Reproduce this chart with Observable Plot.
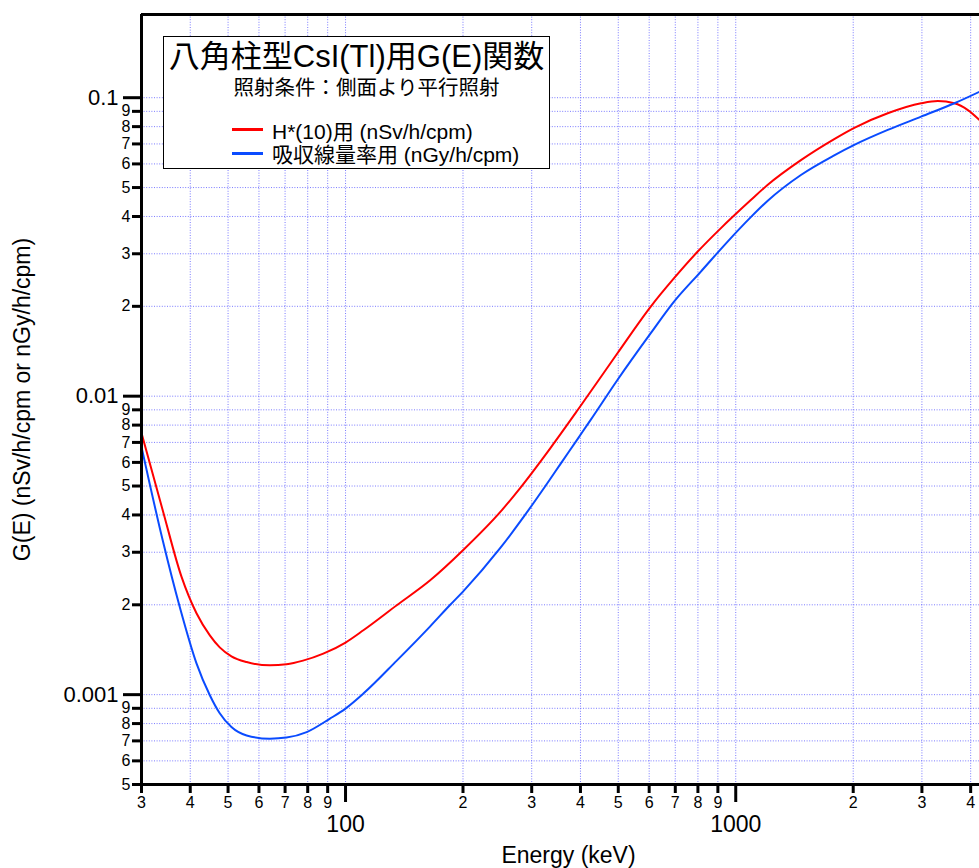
<!DOCTYPE html>
<html><head><meta charset="utf-8">
<script src="https://cdn.jsdelivr.net/npm/d3@7"></script>
<script src="https://cdn.jsdelivr.net/npm/@observablehq/plot@0.6"></script>
<style>
body{margin:0;background:#fff;}
#wrap{position:relative;width:979px;height:868px;overflow:hidden;font-family:"Liberation Sans",Arial,"Noto Sans CJK JP",sans-serif;}
#legend{position:absolute;left:163px;top:36px;width:387px;height:133px;box-sizing:border-box;border:1.5px solid #000;background:#fff;color:#000;}
#legend .t{position:absolute;left:0;width:100%;text-align:center;white-space:nowrap;}
#legend .e{position:absolute;left:108px;font-size:21px;line-height:21px;white-space:nowrap;}
#legend .sw{position:absolute;left:68px;width:31px;height:3px;}
</style></head>
<body><div id="wrap"></div>
<script>
// ---- data ----
const redE = [30, 34, 38, 41.5, 44.9, 47.6, 51, 55.8, 64, 70.6, 77.8, 87.7, 100, 111.1, 135.3, 164.8, 200, 249.3, 280.5, 335, 396, 497, 605, 694, 798, 915, 1093, 1206, 1469, 1788, 2013, 2452, 2985, 3295, 3634, 3935, 4214];
const redG = [7.52e-3, 4.15e-3, 2.48e-3, 1.873e-3, 1.58e-3, 1.44e-3, 1.344e-3, 1.286e-3, 1.254e-3, 1.264e-3, 1.300e-3, 1.372e-3, 1.495e-3, 1.643e-3, 1.993e-3, 2.416e-3, 3.046e-3, 4.094e-3, 4.93e-3, 6.7e-3, 9.09e-3, 0.0139, 0.01993, 0.0248, 0.03046, 0.0365, 0.0454, 0.051, 0.0618, 0.0727, 0.0793, 0.0887, 0.0958, 0.0975, 0.0958, 0.0909, 0.0842];
const blueE = [30, 34, 37.6, 41.5, 44.9, 47.6, 51, 55.8, 64, 70.6, 79.5, 91.2, 100, 111.1, 135.3, 164.8, 185.5, 200, 249.3, 286, 328.6, 355.3, 396, 424.4, 497, 605, 694, 813, 952, 1093, 1206, 1469, 1788, 2013, 2452, 2985, 3634, 4214];
const blueG = [6.76e-3, 3.29e-3, 1.966e-3, 1.273e-3, 0.995e-3, 0.866e-3, 0.779e-3, 0.730e-3, 0.712e-3, 0.718e-3, 0.749e-3, 0.831e-3, 0.898e-3, 1.008e-3, 1.30e-3, 1.694e-3, 2.0e-3, 2.215e-3, 3.10e-3, 3.94e-3, 5.10e-3, 5.92e-3, 7.28e-3, 8.31e-3, 0.01131, 0.01623, 0.0207, 0.0261, 0.0329, 0.0398, 0.0451, 0.0551, 0.0641, 0.0695, 0.078, 0.0864, 0.0958, 0.1047];

const xMinorTicks = [30, 40, 50, 60, 70, 80, 90, 200, 300, 400, 500, 600, 700, 800, 900, 2000, 3000, 4000];
const xMinorLabels = ["3","4","5","6","7","8","9","2","3","4","5","6","7","8","9","2","3","4"];
const xMajorTicks = [100, 1000];
const xMajorLabels = ["100", "1000"];
const yMinorTicks = [5e-4, 6e-4, 7e-4, 8e-4, 9e-4, 0.002, 0.003, 0.004, 0.005, 0.006, 0.007, 0.008, 0.009, 0.02, 0.03, 0.04, 0.05, 0.06, 0.07, 0.08, 0.09];
const yMinorLabels = ["5","6","7","8","9","2","3","4","5","6","7","8","9","2","3","4","5","6","7","8","9"];
const yMajorTicks = [0.001, 0.01, 0.1];
const yMajorLabels = ["0.001", "0.01", "0.1"];

const seriesNames = ["H*(10)用 (nSv/h/cpm)", "吸収線量率用 (nGy/h/cpm)"];
const seriesColors = ["#ff0000", "#0a4bff"];
const titleText = "八角柱型CsI(Tl)用G(E)関数";
const subtitleText = "照射条件：側面より平行照射";
const xLabel = "Energy (keV)";
const yLabel = "G(E) (nSv/h/cpm or nGy/h/cpm)";
const xDomain = [30, 4214];
const yDomain = [5e-4, 0.19];

// ---- layout ----
const W = 979, H = 868, mL = 141, mR = 0, mT = 14, mB = 84;
const frameW = W - mL - mR, frameH = H - mT - mB;

// ---- build ----
const red = redE.map((e, i) => ({E: e, G: redG[i]}));
const blue = blueE.map((e, i) => ({E: e, G: blueG[i]}));
const gridStyle = {stroke: "#5a5aff", strokeOpacity: 0.8, strokeDasharray: "1,1.6", strokeWidth: 1};
const xTick = (len) => ({insetTop: frameH, insetBottom: -len, strokeWidth: 3, stroke: "#000"});
const yTick = (len) => ({insetRight: frameW, insetLeft: -len, strokeWidth: 3, stroke: "#000"});

const chart = Plot.plot({
  width: W, height: H,
  marginLeft: mL, marginRight: mR, marginTop: mT, marginBottom: mB,
  style: {fontFamily: '"Liberation Sans", Arial, sans-serif', background: "#fff", color: "#000"},
  x: {type: "log", domain: xDomain, label: null, axis: null},
  y: {type: "log", domain: yDomain, label: null, axis: null},
  marks: [
    Plot.ruleX([...xMinorTicks, ...xMajorTicks], gridStyle),
    Plot.ruleY([...yMinorTicks.slice(1), ...yMajorTicks], gridStyle),
    Plot.line(red, {x: "E", y: "G", stroke: seriesColors[0], strokeWidth: 2, curve: "monotone-x", clip: true}),
    Plot.line(blue, {x: "E", y: "G", stroke: seriesColors[1], strokeWidth: 2, curve: "monotone-x", clip: true}),
    // frame
    Plot.ruleX([xDomain[0]], {strokeWidth: 3, stroke: "#000"}),
    Plot.ruleY([yDomain[0]], {strokeWidth: 3, stroke: "#000"}),
    Plot.ruleY([yDomain[1]], {strokeWidth: 3, stroke: "#000"}),
    // x ticks + labels
    Plot.ruleX(xMinorTicks, xTick(9)),
    Plot.ruleX(xMajorTicks, xTick(18)),
    Plot.text(xMinorTicks, {x: d => d, text: (d, i) => xMinorLabels[i], frameAnchor: "bottom", lineAnchor: "top", dy: 12, fontSize: 16}),
    Plot.text(xMajorTicks, {x: d => d, text: (d, i) => xMajorLabels[i], frameAnchor: "bottom", lineAnchor: "top", dy: 31, fontSize: 23}),
    // y ticks + labels
    Plot.ruleY(yMinorTicks, yTick(9)),
    Plot.ruleY(yMajorTicks, yTick(18)),
    Plot.text(yMinorTicks, {y: d => d, text: (d, i) => yMinorLabels[i], frameAnchor: "left", textAnchor: "end", lineAnchor: "middle", dx: -11, fontSize: 16}),
    Plot.text(yMajorTicks, {y: d => d, text: (d, i) => yMajorLabels[i], frameAnchor: "left", textAnchor: "end", lineAnchor: "middle", dx: -23, fontSize: 22}),
    // axis titles
    Plot.text([xLabel], {frameAnchor: "bottom", dy: 71, dx: 8, fontSize: 23, textAnchor: "middle", lineAnchor: "middle"}),
    Plot.text([yLabel], {frameAnchor: "left", rotate: -90, dx: -119, dy: 0, fontSize: 23, textAnchor: "middle", lineAnchor: "middle"})
  ]
});
const wrap = document.getElementById("wrap");
wrap.appendChild(chart);

// legend box
const lg = document.createElement("div");
lg.id = "legend";
lg.innerHTML =
  `<div class="t" style="top:4px;font-size:31px;line-height:31px;">${titleText}</div>` +
  `<div class="t" style="top:41px;font-size:20.5px;line-height:20px;padding-left:20px;box-sizing:border-box;">${subtitleText}</div>` +
  `<div class="sw" style="top:91px;background:${seriesColors[0]}"></div>` +
  `<div class="e" style="top:84px;">${seriesNames[0]}</div>` +
  `<div class="sw" style="top:115px;background:${seriesColors[1]}"></div>` +
  `<div class="e" style="top:107px;">${seriesNames[1]}</div>`;
wrap.appendChild(lg);
</script>
</body></html>
